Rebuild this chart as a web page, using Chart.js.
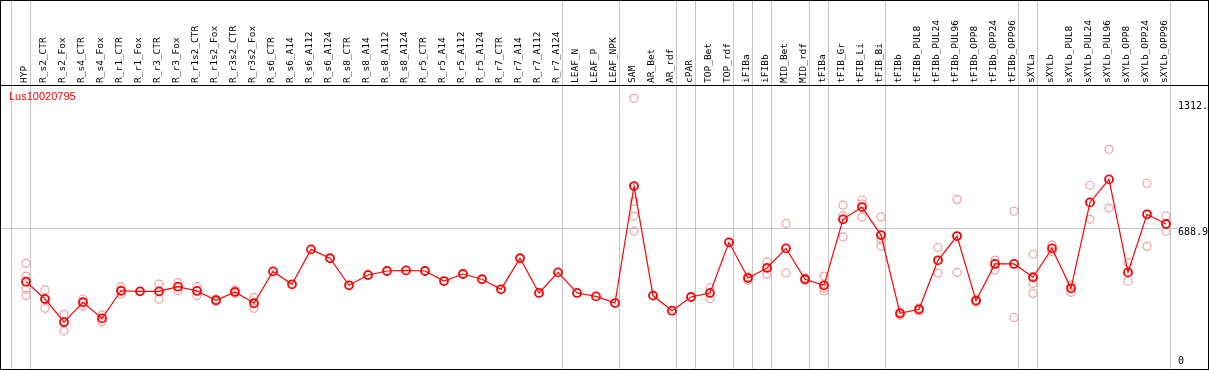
<!DOCTYPE html>
<html>
<head>
<meta charset="utf-8">
<script src="https://cdn.jsdelivr.net/npm/chart.js@4/dist/chart.umd.min.js"></script>
<style>
  html, body { margin: 0; padding: 0; background: #fff; }
  canvas { display: block; }
</style>
</head>
<body>
<canvas id="myChart" width="1209" height="370"></canvas>
<script>
var titulo = 'Lus10020795';
var categorias = ['HYP', 'R_s2_CTR', 'R_s2_Fox', 'R_s4_CTR', 'R_s4_Fox', 'R_r1_CTR', 'R_r1_Fox', 'R_r3_CTR', 'R_r3_Fox',
	'R_r1s2_CTR', 'R_r1s2_Fox', 'R_r3s2_CTR', 'R_r3s2_Fox', 'R_s6_CTR', 'R_s6_A14', 'R_s6_A112', 'R_s6_A124',
	'R_s8_CTR', 'R_s8_A14', 'R_s8_A112', 'R_s8_A124', 'R_r5_CTR', 'R_r5_A14', 'R_r5_A112', 'R_r5_A124',
	'R_r7_CTR', 'R_r7_A14', 'R_r7_A112', 'R_r7_A124', 'LEAF_N', 'LEAF_P', 'LEAF_NPK', 'SAM', 'AR_Bet', 'AR_rdf',
	'cPAR', 'TOP_Bet', 'TOP_rdf', 'iFIBa', 'iFIBb', 'MID_Bet', 'MID_rdf', 'tFIBa', 'tFIB_Gr', 'tFIB_Li', 'tFIB_Bi',
	'tFIBb', 'tFIBb_PUL8', 'tFIBb_PUL24', 'tFIBb_PUL96', 'tFIBb_OPP8', 'tFIBb_OPP24', 'tFIBb_OPP96',
	'sXYLa', 'sXYLb', 'sXYLb_PUL8', 'sXYLb_PUL24', 'sXYLb_PUL96', 'sXYLb_OPP8', 'sXYLb_OPP24', 'sXYLb_OPP96'];
var medias = [423, 337, 222, 321, 241, 378, 375, 375, 398, 377, 331, 372, 316, 474, 410, 583, 539,
	405, 456, 476, 479, 476, 426, 461, 435, 385, 539, 367, 469, 367, 350, 317, 897, 354, 279,
	347, 367, 618, 441, 491, 588, 435, 405, 732, 793, 654,
	266, 286, 529, 649, 329, 511, 511, 445, 588, 390, 816, 930, 469, 757, 709];
var replicas = [[514, 451, 385, 355], [382, 291], [261, 225, 178], [337, 302], [258, 225], [398, 362], [],
	[411, 336], [418, 378], [398, 354], [336, 326], [382, 364], [344, 291], [], [], [], [],
	[], [], [], [], [], [], [], [], [], [], [], [], [], [], [], [1332, 820, 747, 674], [], [],
	[], [393, 339], [], [448, 430], [521, 460], [712, 466], [441, 430], [451, 390, 377],
	[802, 750, 645], [828, 808, 744], [744, 630, 600],
	[256, 272], [278, 292], [593, 466], [831, 469], [334, 322], [530, 481], [772, 246],
	[559, 415, 365], [605, 572], [407, 370], [901, 732], [1079, 788], [517, 425], [911, 598], [749, 673]];
var ticksY = [1312, 688.9, 0];
var ticksTexto = ['1312.', '688.9', '0'];
// last category of each group (vertical separators)
var cortes = [-1, 0, 28, 31, 34, 35, 37, 38, 39, 41, 42, 45, 52, 53, 60];

let myChart;

const puntosMedia = medias.map((v, i) => ({x: i, y: v}));
const puntosRep = [];
replicas.forEach((lista, i) => {
	lista.forEach(v => puntosRep.push({x: i, y: v}));
});

const fondo = {
	id: 'fondo',
	beforeDatasetsDraw(chart) {
		const ctx = chart.ctx;
		const xs = chart.scales.x;
		const ys = chart.scales.y;
		const W = chart.width, H = chart.height;
		ctx.save();
		ctx.lineWidth = 1;
		ctx.strokeStyle = '#c4c4c4';
		// separators
		cortes.forEach(c => {
			const x = Math.round(xs.getPixelForValue(c + 0.22)) + 0.5;
			ctx.beginPath();
			ctx.moveTo(x, 0);
			ctx.lineTo(x, H);
			ctx.stroke();
		});
		// horizontal grid at 688.9
		const yg = Math.round(ys.getPixelForValue(ticksY[1])) + 0.5;
		ctx.beginPath();
		ctx.moveTo(1, yg);
		ctx.lineTo(1177, yg);
		ctx.stroke();

		// frame
		ctx.strokeStyle = '#000';
		ctx.strokeRect(0.5, 0.5, W - 1, H - 1);
		ctx.beginPath();
		ctx.moveTo(0, 85.5);
		ctx.lineTo(W, 85.5);
		ctx.stroke();

		// category labels
		ctx.fillStyle = '#000';
		ctx.font = '9.5px "DejaVu Sans Mono"';
		ctx.textAlign = 'left';
		ctx.textBaseline = 'middle';
		categorias.forEach((nom, i) => {
			const x = xs.getPixelForValue(i) - 1;
			ctx.save();
			ctx.translate(x, 83);
			ctx.rotate(-Math.PI / 2);
			ctx.fillText(nom, 0, 0);
			ctx.restore();
		});

		// y tick labels
		ctx.font = '10px "DejaVu Sans Mono"';
		ticksY.forEach((v, k) => {
			let y = ys.getPixelForValue(v) + 4.5;
			if (y > H - 8) y = H - 9;
			ctx.fillText(ticksTexto[k], 1178, y);
		});

		// title
		ctx.fillStyle = '#ff0000';
		ctx.font = '11px "Liberation Sans", Arial, sans-serif';
		ctx.fillText(titulo, 9, 97);
		ctx.restore();
	}
};

function dibujar() {
	const ctx = document.getElementById('myChart');
	if (myChart) {
		myChart.destroy();
	}
	myChart = new Chart(ctx, {
		type: 'scatter',
		data: {
			datasets: [{
				label: 'media',
				data: puntosMedia,
				showLine: true,
				order: 0,
				borderColor: '#ff0000',
				borderWidth: 1.2,
				pointRadius: 4,
				pointBorderWidth: 1.8,
				pointBackgroundColor: 'rgba(0,0,0,0)',
				pointBorderColor: '#ff0000'
			}, {
				label: 'replicas',
				data: puntosRep,
				showLine: false,
				order: 1,
				pointRadius: 4,
				pointBorderWidth: 1.2,
				pointBackgroundColor: 'rgba(0,0,0,0)',
				pointBorderColor: '#f0a0a0'
			}]
		},
		options: {
			responsive: false,
			animation: false,
			layout: { autoPadding: false, padding: { top: 85, left: 1, right: 1, bottom: 3 } },
			plugins: {
				legend: { display: false },
				tooltip: { enabled: false }
			},
			scales: {
				x: { type: 'linear', display: false, min: -25 / 19, max: 60 + 42 / 19 },
				y: { type: 'linear', display: false, min: 0, max: 1398 }
			}
		},
		plugins: [fondo]
	});
}
dibujar();
</script>
</body>
</html>
